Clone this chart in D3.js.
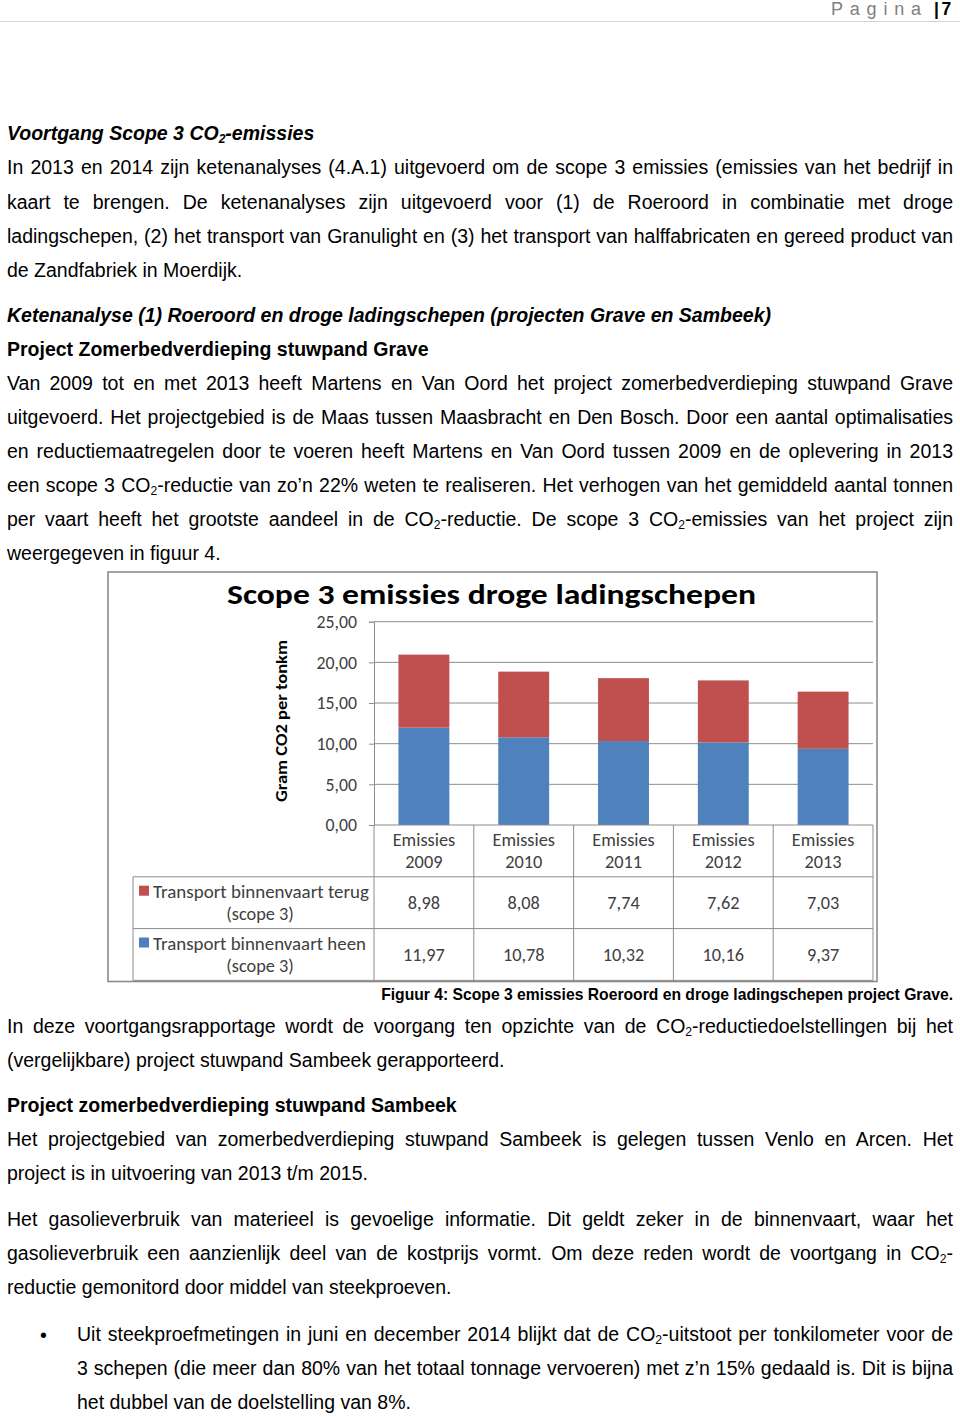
<!DOCTYPE html>
<html><head><meta charset="utf-8">
<script src="https://cdn.jsdelivr.net/npm/d3@7"></script>
<style>
body{margin:0;background:#fff;}
#page{position:relative;width:960px;height:1417px;overflow:hidden;font-family:"Liberation Sans",Arial,sans-serif;color:#000;}
#page svg{position:absolute;left:0;top:0;}
.ln{position:absolute;white-space:nowrap;font-size:19.5px;line-height:19.5px;}
.ln.j{text-align:justify;text-align-last:justify;}
.ln.b{font-weight:bold;}
.ln.bi{font-weight:bold;font-style:italic;}
.sub{font-size:0.62em;position:relative;top:0.22em;}
</style></head><body><div id="page"></div>
<script>
// ---- chart data ----
const categories = ["2009","2010","2011","2012","2013"];
const catPrefix = "Emissies";
const terug = [8.98, 8.08, 7.74, 7.62, 7.03];   // red, top
const heen  = [11.97, 10.78, 10.32, 10.16, 9.37]; // blue, bottom
const seriesKeys = ["heen","terug"];
const seriesLabels = {terug:["Transport binnenvaart terug","(scope 3)"], heen:["Transport binnenvaart heen","(scope 3)"]};
const seriesColors = {terug:"#c0504d", heen:"#4f81bd"};
const tableOrder = ["terug","heen"];
const yTicks = [0,5,10,15,20,25];
const chartTitle = "Scope 3 emissies droge ladingschepen";
const yTitle = "Gram CO2 per tonkm";
const caption = "Figuur 4: Scope 3 emissies Roeroord en droge ladingschepen project Grave.";

// ---- page text ----
const lines = [
 {t:"Voortgang Scope 3 CO~2~-emissies", b:140.5, s:"bi"},
 {t:"In 2013 en 2014 zijn ketenanalyses (4.A.1) uitgevoerd om de scope 3 emissies (emissies van het bedrijf in", b:175, s:"j"},
 {t:"kaart te brengen. De ketenanalyses zijn uitgevoerd voor (1) de Roeroord in combinatie met droge", b:209.3, s:"j"},
 {t:"ladingschepen, (2) het transport van Granulight en (3) het transport van halffabricaten en gereed product van", b:243.5, s:"j"},
 {t:"de Zandfabriek in Moerdijk.", b:277.5},
 {t:"Ketenanalyse (1) Roeroord en droge ladingschepen (projecten Grave en Sambeek)", b:322.7, s:"bi"},
 {t:"Project Zomerbedverdieping stuwpand Grave", b:356.7, s:"b"},
 {t:"Van 2009 tot en met 2013 heeft Martens en Van Oord het project zomerbedverdieping stuwpand Grave", b:390.7, s:"j"},
 {t:"uitgevoerd. Het projectgebied is de Maas tussen Maasbracht en Den Bosch. Door een aantal optimalisaties", b:424.7, s:"j"},
 {t:"en reductiemaatregelen door te voeren heeft Martens en Van Oord tussen 2009 en de oplevering in 2013", b:458.7, s:"j"},
 {t:"een scope 3 CO~2~-reductie van zo’n 22% weten te realiseren. Het verhogen van het gemiddeld aantal tonnen", b:492.7, s:"j"},
 {t:"per vaart heeft het grootste aandeel in de CO~2~-reductie. De scope 3 CO~2~-emissies van het project zijn", b:526.7, s:"j"},
 {t:"weergegeven in figuur 4.", b:560.7},
 {t:"In deze voortgangsrapportage wordt de voorgang ten opzichte van de CO~2~-reductiedoelstellingen bij het", b:1034, s:"j"},
 {t:"(vergelijkbare) project stuwpand Sambeek gerapporteerd.", b:1068},
 {t:"Project zomerbedverdieping stuwpand Sambeek", b:1113, s:"b"},
 {t:"Het projectgebied van zomerbedverdieping stuwpand Sambeek is gelegen tussen Venlo en Arcen. Het", b:1147, s:"j"},
 {t:"project is in uitvoering van 2013 t/m 2015.", b:1181},
 {t:"Het gasolieverbruik van materieel is gevoelige informatie. Dit geldt zeker in de binnenvaart, waar het", b:1227, s:"j"},
 {t:"gasolieverbruik een aanzienlijk deel van de kostprijs vormt. Om deze reden wordt de voortgang in CO~2~-", b:1261, s:"j"},
 {t:"reductie gemonitord door middel van steekproeven.", b:1295},
 {t:"Uit steekproefmetingen in juni en december 2014 blijkt dat de CO~2~-uitstoot per tonkilometer voor de", b:1341.5, s:"j", x:77},
 {t:"3 schepen (die meer dan 80% van het totaal tonnage vervoeren) met z’n 15% gedaald is. Dit is bijna", b:1375.5, s:"j", x:77},
 {t:"het dubbel van de doelstelling van 8%.", b:1409.5, x:77}
];

const page = d3.select("#page");
const svg = page.append("svg").attr("width",960).attr("height",1417);

// header
svg.append("line").attr("x1",0).attr("x2",960).attr("y1",21.5).attr("y2",21.5).attr("stroke","#d4d4d4").attr("stroke-width",1);
svg.append("text").attr("x",831).attr("y",15).attr("font-family","Liberation Sans, Arial, sans-serif")
  .attr("font-size",18).attr("fill","#7f7f7f").attr("textLength",90).attr("lengthAdjust","spacing").text("Pagina");
svg.append("text").attr("x",934).attr("y",15).attr("font-family","Liberation Sans, Arial, sans-serif")
  .attr("font-size",17.5).attr("font-weight","bold").attr("fill","#000").text("|");
svg.append("text").attr("x",941.5).attr("y",15).attr("font-family","Liberation Sans, Arial, sans-serif")
  .attr("font-size",17.5).attr("font-weight","bold").attr("fill","#000").text("7");

// body text
function toHtml(t){ return t.replace(/~(.*?)~/g,'<span class="sub">$1</span>'); }
const fs = 19.5;
page.selectAll("div.ln").data(lines).join("div")
  .attr("class", d => "ln " + (d.s === "j" ? "" : (d.s||"")))
  .style("left", d => (d.x||7) + "px")
  .style("width", d => (953 - (d.x||7)) + "px")
  .style("top", d => (d.b - 0.8465*fs) + "px")
  .html(d => '<span class="in">' + toHtml(d.t) + '</span>')
  .each(function(d){
    if (d.s === "j") {
      const el = this, span = el.querySelector(".in");
      const w = 953 - (d.x||7);
      const nat = span.getBoundingClientRect().width;
      if (nat > w) {
        const n = d.t.replace(/~/g,"").length;
        el.style.letterSpacing = ((w - nat) / n) + "px";
      }
      el.classList.add("j");
    }
  });
// bullet
svg.append("text").attr("x",40).attr("y",1341.5).attr("font-family","Liberation Sans, Arial, sans-serif")
  .attr("font-size",19.5).text("•");

// ---- chart ----
const cf = "Carlito, Lato, sans-serif";
const tfs = 18.3;
const plotL = 374, plotR = 873, yBottom = 825, yTop = 621.7;
const x = d3.scaleBand().domain(categories).range([plotL, plotR]).paddingInner(0.49).paddingOuter(0.245);
const y = d3.scaleLinear().domain([0,25]).range([yBottom, yTop]);
const g = svg.append("g");

// outer frame
g.append("rect").attr("x",108).attr("y",572).attr("width",769).attr("height",409.5)
  .attr("fill","none").attr("stroke","#8a8a8a").attr("stroke-width",1.6);

// title
g.append("text").attr("x",491.5).attr("y",604).attr("text-anchor","middle")
  .attr("font-family",cf).attr("font-weight","bold").attr("font-size",28)
  .attr("textLength",529).attr("lengthAdjust","spacingAndGlyphs").attr("fill","#000").text(chartTitle);

// y title
g.append("text").attr("transform","translate(287,721) rotate(-90)").attr("text-anchor","middle")
  .attr("font-family",cf).attr("font-weight","bold").attr("font-size",16.5)
  .attr("textLength",162).attr("lengthAdjust","spacingAndGlyphs").attr("fill","#000").text(yTitle);

// gridlines
g.append("g").selectAll("line").data(yTicks.filter(v=>v>0)).join("line")
  .attr("x1",plotL).attr("x2",plotR).attr("y1",d=>y(d)).attr("y2",d=>y(d))
  .attr("stroke","#8c8c8c").attr("stroke-width",1);

// y axis
const yAxis = d3.axisLeft(y).tickValues(yTicks).tickSize(5).tickPadding(12)
  .tickFormat(d => d3.format(".2f")(d).replace(".",","));
const ya = g.append("g").attr("transform",`translate(${plotL},0)`).call(yAxis);
ya.select(".domain").attr("stroke","#8c8c8c");
ya.selectAll(".tick line").attr("stroke","#8c8c8c");
ya.selectAll(".tick text").attr("font-family",cf).attr("font-size",17.8).attr("fill","#404040");

// stacked bars
const rows = categories.map((c,i)=>({cat:c, heen:heen[i], terug:terug[i]}));
const stack = d3.stack().keys(seriesKeys)(rows);
g.append("g").selectAll("g").data(stack).join("g").attr("fill", d => seriesColors[d.key])
  .selectAll("rect").data(d=>d).join("rect")
  .attr("x", d => x(d.data.cat)).attr("width", x.bandwidth())
  .attr("y", d => y(d[1])).attr("height", d => y(d[0]) - y(d[1]));

// data table
const rowH = 51.8;
const legL = 133;
const colB = d3.range(categories.length+1).map(i => plotL + i*x.step());
const tg = g.append("g");
tg.append("line").attr("x1",plotL).attr("x2",plotR).attr("y1",yBottom).attr("y2",yBottom).attr("stroke","#8c8c8c");
tg.selectAll("line.v").data(colB).join("line").attr("class","v")
  .attr("x1",d=>d).attr("x2",d=>d).attr("y1",yBottom).attr("y2",yBottom+3*rowH).attr("stroke","#8c8c8c");
tg.append("line").attr("x1",legL).attr("x2",legL).attr("y1",yBottom+rowH).attr("y2",yBottom+3*rowH).attr("stroke","#8c8c8c");
tg.selectAll("line.h").data([1,2,3]).join("line").attr("class","h")
  .attr("x1",legL).attr("x2",plotR).attr("y1",d=>yBottom+d*rowH).attr("y2",d=>yBottom+d*rowH).attr("stroke","#8c8c8c");
const cx = c => x(c) + x.bandwidth()/2;
const hc = yBottom + rowH/2;
tg.selectAll("text.h1").data(categories).join("text").attr("class","h1")
  .attr("x",cx).attr("y",hc-5).attr("text-anchor","middle").attr("font-family",cf).attr("font-size",tfs).attr("fill","#404040").text(catPrefix);
tg.selectAll("text.h2").data(categories).join("text").attr("class","h2")
  .attr("x",cx).attr("y",hc+17).attr("text-anchor","middle").attr("font-family",cf).attr("font-size",tfs).attr("fill","#404040").text(d=>d);
const fmt = v => d3.format(".2f")(v).replace(".",",");
const vals = {terug, heen};
tableOrder.forEach((k,ri) => {
  const rc = yBottom + rowH*(ri+1) + rowH/2;
  const rg = tg.append("g");
  rg.append("rect").attr("x",139).attr("y",rc-17).attr("width",10).attr("height",10).attr("fill",seriesColors[k]);
  rg.append("text").attr("x",153).attr("y",rc-5).attr("font-family",cf).attr("font-size",tfs).attr("fill","#404040")
    .attr("textLength", k === "terug" ? 216 : 213).attr("lengthAdjust","spacingAndGlyphs").text(seriesLabels[k][0]);
  rg.append("text").attr("x",260).attr("y",rc+17).attr("text-anchor","middle").attr("font-family",cf).attr("font-size",tfs).attr("fill","#404040").text(seriesLabels[k][1]);
  rg.selectAll("text.v").data(categories).join("text").attr("class","v")
    .attr("x",cx).attr("y",rc+6.5).attr("text-anchor","middle").attr("font-family",cf).attr("font-size",tfs).attr("fill","#404040")
    .text((c,i)=>fmt(vals[k][i]));
});

// caption
svg.append("text").attr("x",953).attr("y",999.5).attr("text-anchor","end")
  .attr("font-family","Liberation Sans, Arial, sans-serif").attr("font-weight","bold").attr("font-size",15.7)
  .attr("fill","#000").text(caption);
</script></body></html>
